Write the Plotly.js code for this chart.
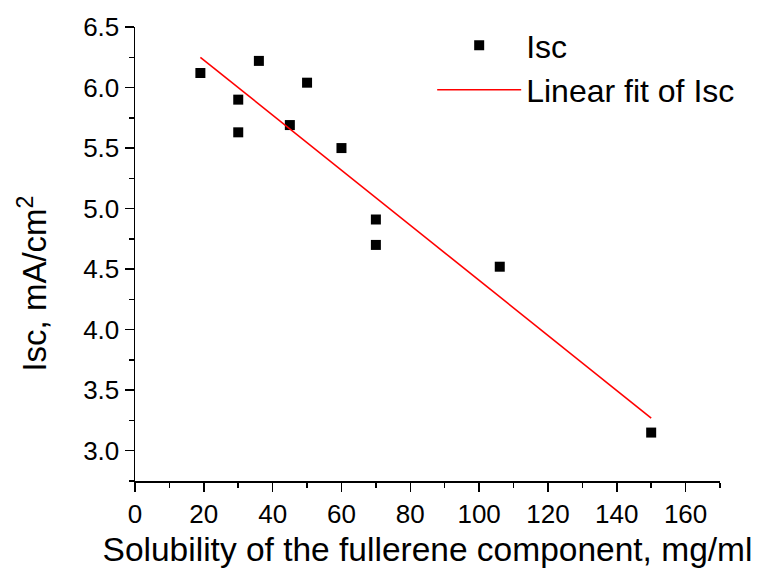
<!DOCTYPE html>
<html>
<head>
<meta charset="utf-8">
<script src="https://cdn.plot.ly/plotly-3.0.1.min.js"></script>
<style>html,body{margin:0;padding:0;background:#fff;}#chart{width:758px;height:573px;}</style>
</head>
<body>
<div id="chart"></div>
<script>
// Data
const solubility = [19, 30, 30, 36, 45, 50, 60, 70, 70, 106, 150];
const isc = [6.12, 5.90, 5.63, 6.22, 5.69, 6.04, 5.50, 4.91, 4.70, 4.52, 3.15];
const fitX = [19, 150];
const fitY = [6.25, 3.27];
const xTicks = [0, 20, 40, 60, 80, 100, 120, 140, 160];
const yTicks = [3.0, 3.5, 4.0, 4.5, 5.0, 5.5, 6.0, 6.5];

const font = "Liberation Sans, Arial, sans-serif";

const traces = [
  {
    x: solubility, y: isc, type: 'scatter', mode: 'markers', name: 'Isc',
    marker: {symbol: 'square', size: 10, color: '#000'}
  },
  {
    x: fitX, y: fitY, type: 'scatter', mode: 'lines', name: 'Linear fit of Isc',
    line: {color: '#ff0000', width: 1.6}
  }
];

const layout = {
  width: 758, height: 573,
  margin: {l: 135, r: 38, t: 27, b: 92, autoexpand: false},
  paper_bgcolor: '#fff', plot_bgcolor: '#fff',
  font: {family: font, size: 26, color: '#000'},
  showlegend: true,
  legend: {
    x: 0.508, y: 1.02, xanchor: 'left', yanchor: 'top',
    bgcolor: 'rgba(0,0,0,0)', font: {family: font, size: 32, color: '#000'},
    tracegroupgap: 0, itemwidth: 84
  },
  annotations: [{
    text: 'Isc, mA/cm<sup>2</sup>', textangle: -90, showarrow: false,
    xref: 'paper', yref: 'paper', x: -0.176, y: 0.435, xanchor: 'center', yanchor: 'middle',
    font: {family: font, size: 33, color: '#000'}
  }],
  xaxis: {
    range: [0, 170], tickvals: xTicks, ticktext: xTicks.map(String),
    showgrid: false, zeroline: false, showline: true, linecolor: '#000', linewidth: 1.5,
    ticks: 'outside', ticklen: 9, tickwidth: 1.5, tickcolor: '#000',
    minor: {dtick: 10, ticks: 'outside', ticklen: 5, tickwidth: 1.5, tickcolor: '#000', showgrid: false},
    tickfont: {family: font, size: 26},
    title: {text: 'Solubility of the fullerene component, mg/ml', font: {family: font, size: 33.5}, standoff: 10}
  },
  yaxis: {
    range: [2.75, 6.5], tickvals: yTicks, ticktext: yTicks.map(v => v.toFixed(1)),
    showgrid: false, zeroline: false, showline: true, linecolor: '#000', linewidth: 1.5,
    ticks: 'outside', ticklen: 9, tickwidth: 1.5, tickcolor: '#000',
    minor: {dtick: 0.25, ticks: 'outside', ticklen: 5, tickwidth: 1.5, tickcolor: '#000', showgrid: false},
    tickfont: {family: font, size: 26}
  }
};

Plotly.newPlot('chart', traces, layout, {displayModeBar: false, staticPlot: true});
</script>
</body>
</html>
